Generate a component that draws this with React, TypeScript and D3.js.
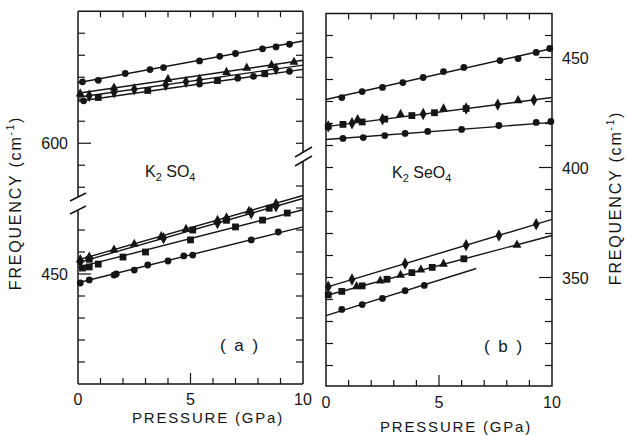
import React from 'react'
import { scaleLinear } from 'd3'

// pressure axis (GPa)
const pressureTicks = [1, 2, 3, 4, 5, 6, 7, 8, 9]
const pressureLabels = [0, 5, 10]

// ---- (a) K2SO4, upper band (cm-1)
const aUpTopCircleP = [0.2, 0.9, 2.1, 3.2, 3.8, 5.4, 6.3, 7.0, 8.2, 8.8, 9.4]
const aUpTopCircleV = [627.9, 628.6, 631.7, 633.5, 634.4, 637.4, 639.5, 640.8, 642.9, 643.8, 645.0]
const aUpTriangleP = [0.1, 1.6, 4.0, 6.6, 7.5, 8.6, 9.6]
const aUpTriangleV = [622.6, 625.3, 629.2, 632.4, 634.3, 635.6, 637.0]
const aUpDiamondP = [0.5, 1.6, 2.5, 3.9, 4.8, 5.4, 8.8]
const aUpDiamondV = [621.6, 623.2, 624.5, 626.6, 627.9, 628.8, 633.7]
const aUpSquareP = [0.9, 3.1, 6.2, 8.3]
const aUpSquareV = [620.8, 624.0, 628.5, 631.6]
const aUpCircleP = [0.25, 5.4, 7.1, 7.8, 9.4]
const aUpCircleV = [619.3, 626.9, 629.6, 630.4, 632.7]
// fitted lines [p0, v0, p1, v1]
const aUpFits = [
  [0, 627.5, 10, 646.5],
  [0, 622.7, 10, 637.7],
  [0, 620.9, 10, 635.5],
  [0, 619.1, 10, 633.6],
]

// ---- (a) K2SO4, lower band
const aLoCircleP = [0.1, 0.5, 1.6, 1.7, 2.5, 3.1, 4.0, 4.7, 5.1, 7.7, 8.9]
const aLoCircleV = [445.9, 447.3, 449.5, 450.0, 451.8, 454.1, 455.9, 458.2, 458.6, 465.5, 469.1]
const aLoSquareP = [0.2, 0.5, 0.9, 2.0, 3.0, 5.0, 7.0, 8.2, 9.3]
const aLoSquareV = [452.7, 453.2, 454.5, 457.7, 460.0, 465.5, 471.4, 474.5, 477.7]
const aLoTriangleP = [0.1, 0.5, 1.6, 2.5, 3.7, 4.8, 6.2, 6.6, 7.6, 8.8]
const aLoTriangleV = [456.7, 457.9, 461.1, 463.7, 467.2, 470.5, 474.6, 475.7, 478.7, 482.2]
const aLoDiamondP = [0.1, 3.8, 6.2, 7.7, 8.8]
const aLoDiamondV = [455.5, 466.3, 473.2, 477.6, 480.8]
const aLoSquareBP = [0.5, 5.1, 6.6, 8.5]
const aLoSquareBV = [456.7, 470.0, 474.4, 479.9]
const aLoFits = [
  [0, 446.0, 10, 471.4],
  [0, 453.0, 10, 479.2],
  [0, 456.4, 10, 485.7],
  [0, 455.2, 10, 484.3],
]

// ---- (b) K2SeO4
const bTopCircleP = [0.7, 1.6, 2.5, 3.4, 4.3, 5.2, 6.1, 7.7, 8.5, 9.3, 9.9]
const bTopCircleV = [431.8, 434.5, 436.4, 438.6, 440.9, 443.6, 445.5, 448.6, 449.5, 452.3, 454.1]
const bMidSquareP = [0.1, 0.75, 1.6, 2.6, 3.8, 4.8, 6.2]
const bMidSquareV = [418.7, 419.6, 420.7, 422.0, 423.6, 424.9, 426.8]
const bMidDiamondP = [0.1, 1.15, 2.5, 4.3, 6.2, 7.6, 9.2]
const bMidDiamondV = [418.7, 420.1, 421.9, 424.3, 426.8, 428.6, 430.7]
const bMidTriangleP = [1.4, 3.3, 5.2, 8.5]
const bMidTriangleV = [421.9, 424.3, 426.8, 430.6]
const bLowCircleP = [0.75, 1.65, 2.6, 3.5, 4.5, 6.0, 7.65, 9.3, 9.95]
const bLowCircleV = [413.2, 413.6, 414.5, 415.5, 416.4, 417.3, 419.1, 420.5, 420.9]
const bLoDiamondP = [0.1, 1.15, 3.5, 6.2, 7.65, 9.3]
const bLoDiamondV = [345.8, 349.1, 356.3, 364.7, 369.1, 374.2]
const bLoSquareP = [0.1, 0.7, 1.6, 2.7, 3.8, 4.7, 6.1]
const bLoSquareV = [342.1, 343.7, 346.2, 349.2, 352.2, 354.6, 358.5]
const bLoTriangleP = [1.35, 2.4, 3.3, 4.2, 5.2, 8.45]
const bLoTriangleV = [346.0, 348.6, 351.2, 353.6, 356.3, 364.9]
const bLoCircleP = [0.7, 1.6, 2.5, 3.5, 4.35]
const bLoCircleV = [335.5, 337.7, 340.5, 344.0, 346.4]
const bFits = [
  [0, 430.9, 10, 454.1],
  [0, 418.6, 10, 431.8],
  [0, 412.7, 10, 420.5],
  [0, 345.5, 10, 376.4],
  [0, 341.8, 10, 369.1],
  [0, 332.7, 6.65, 354.1],
]

const aUpper = [
  { marker: 'circle', p: aUpTopCircleP, v: aUpTopCircleV },
  { marker: 'triangle', p: aUpTriangleP, v: aUpTriangleV },
  { marker: 'diamond', p: aUpDiamondP, v: aUpDiamondV },
  { marker: 'square', p: aUpSquareP, v: aUpSquareV },
  { marker: 'circle', p: aUpCircleP, v: aUpCircleV },
]
const aLower = [
  { marker: 'circle', p: aLoCircleP, v: aLoCircleV },
  { marker: 'square', p: aLoSquareP, v: aLoSquareV },
  { marker: 'triangle', p: aLoTriangleP, v: aLoTriangleV },
  { marker: 'diamond', p: aLoDiamondP, v: aLoDiamondV },
  { marker: 'square', p: aLoSquareBP, v: aLoSquareBV },
]
const bSeries = [
  { marker: 'circle', p: bTopCircleP, v: bTopCircleV },
  { marker: 'square', p: bMidSquareP, v: bMidSquareV },
  { marker: 'diamond', p: bMidDiamondP, v: bMidDiamondV },
  { marker: 'triangle', p: bMidTriangleP, v: bMidTriangleV },
  { marker: 'circle', p: bLowCircleP, v: bLowCircleV },
  { marker: 'diamond', p: bLoDiamondP, v: bLoDiamondV },
  { marker: 'square', p: bLoSquareP, v: bLoSquareV },
  { marker: 'triangle', p: bLoTriangleP, v: bLoTriangleV },
  { marker: 'circle', p: bLoCircleP, v: bLoCircleV },
]

const INK = '#151515'
const FONT = '"Liberation Sans", Arial, sans-serif'

function Marker({ kind, x, y }) {
  if (kind === 'circle') return <circle cx={x} cy={y} r={3.4} fill={INK} />
  if (kind === 'square')
    return <rect x={x - 3.4} y={y - 3.4} width={6.8} height={6.8} fill={INK} />
  if (kind === 'triangle')
    return <path d={`M${x},${y - 5.2}L${x + 4.4},${y + 3}L${x - 4.4},${y + 3}Z`} fill={INK} />
  return <path d={`M${x},${y - 6.2}L${x + 3.4},${y}L${x},${y + 6.2}L${x - 3.4},${y}Z`} fill={INK} />
}

function Points({ series, x, y }) {
  return (
    <g>
      {series.map((s, i) =>
        s.p.map((p, j) => <Marker key={`${i}-${j}`} kind={s.marker} x={x(p)} y={y(s.v[j])} />)
      )}
    </g>
  )
}

function Fits({ fits, x, y }) {
  return (
    <g stroke={INK} strokeWidth={1.4}>
      {fits.map((f, i) => (
        <line key={i} x1={x(f[0])} y1={y(f[1])} x2={x(f[2])} y2={y(f[3])} />
      ))}
    </g>
  )
}

function FreqTitle({ cx, cy }) {
  return (
    <text
      transform={`translate(${cx},${cy}) rotate(-90)`}
      textAnchor="middle"
      fontSize={16}
      letterSpacing={1.8}
      fill={INK}
    >
      FREQUENCY (cm<tspan fontSize={10} dy={-7}>-1</tspan>
      <tspan dy={7}>)</tspan>
    </text>
  )
}

export default function App() {
  // panel (a)
  const ax = scaleLinear().domain([0, 10]).range([78, 303])
  const ayUp = scaleLinear().domain([600, 660]).range([143.25, 11.25])
  const ayLo = scaleLinear().domain([400, 480]).range([384, 208])
  const aTop = 11.25
  const aBot = 384
  // panel (b)
  const bx = scaleLinear().domain([0, 10]).range([326, 552])
  const by = scaleLinear().domain([300, 470]).range([387.5, 13.5])
  const bTop = 13.5
  const bBot = 386

  const aLeftLo = [410, 420, 430, 440, 450, 460, 470]
  const aLeftUp = [580, 590, 600, 610, 620, 630, 640, 650]
  const aRightLo = [410, 420, 430, 440, 450, 460, 470, 480, 490]
  const aRightUp = [600, 610, 620, 630, 640, 650]
  const bTicks = [310, 320, 330, 340, 350, 360, 370, 380, 390, 400, 410, 420, 430, 440, 450, 460]
  const bLabels = [350, 400, 450]

  return (
    <svg width={627} height={435} style={{ position: 'absolute', left: 0, top: 0 }} fontFamily={FONT}>
      <rect width={627} height={435} fill="#fff" />

      {/* panel (a) frame */}
      <g stroke={INK} strokeWidth={1.5} fill="none">
        <line x1={78} y1={aTop} x2={303} y2={aTop} />
        <line x1={78} y1={aBot} x2={303} y2={aBot} />
        <line x1={78} y1={aTop} x2={78} y2={197} />
        <line x1={78} y1={210} x2={78} y2={aBot} />
        <line x1={303} y1={aTop} x2={303} y2={152} />
        <line x1={303} y1={161} x2={303} y2={aBot} />
        {/* axis breaks */}
        <line x1={70} y1={201} x2={86} y2={193} />
        <line x1={70} y1={214} x2={86} y2={206} />
        <line x1={295} y1={157} x2={312} y2={147} />
        <line x1={295} y1={166} x2={312} y2={156} />
      </g>
      <g stroke={INK} strokeWidth={1.2}>
        {pressureTicks.map((t) => (
          <g key={t}>
            <line x1={ax(t)} x2={ax(t)} y1={aTop} y2={aTop + 6} />
            <line x1={ax(t)} x2={ax(t)} y1={aBot} y2={aBot - (t === 5 ? 11 : 6)} />
            <line x1={bx(t)} x2={bx(t)} y1={bTop} y2={bTop + 6} />
            <line x1={bx(t)} x2={bx(t)} y1={bBot} y2={bBot - (t === 5 ? 11 : 6)} />
          </g>
        ))}
        {aLeftLo.map((v) => (
          <line key={v} x1={78} x2={78 + (v === 450 ? 13 : 7)} y1={ayLo(v)} y2={ayLo(v)} />
        ))}
        {aLeftUp.map((v) => (
          <line key={v} x1={78} x2={78 + (v === 600 ? 13 : 7)} y1={ayUp(v)} y2={ayUp(v)} />
        ))}
        {aRightLo.map((v) => (
          <line key={v} x1={303} x2={296} y1={ayLo(v)} y2={ayLo(v)} />
        ))}
        {aRightUp.map((v) => (
          <line key={v} x1={303} x2={296} y1={ayUp(v)} y2={ayUp(v)} />
        ))}
        {bTicks.map((v) => (
          <g key={v}>
            <line x1={326} x2={333} y1={by(v)} y2={by(v)} />
            <line x1={552} x2={552 - (bLabels.includes(v) ? 13 : 7)} y1={by(v)} y2={by(v)} />
          </g>
        ))}
      </g>

      {/* panel (b) frame */}
      <rect x={326} y={bTop} width={226} height={bBot - bTop} fill="none" stroke={INK} strokeWidth={1.5} />

      {/* fits and data */}
      <Fits fits={aUpFits} x={ax} y={ayUp} />
      <Fits fits={aLoFits} x={ax} y={ayLo} />
      <Fits fits={bFits} x={bx} y={by} />
      <Points series={aUpper} x={ax} y={ayUp} />
      <Points series={aLower} x={ax} y={ayLo} />
      <Points series={bSeries} x={bx} y={by} />

      {/* tick labels */}
      <g fontSize={16} fill={INK}>
        <text x={68} y={ayUp(600) + 6} textAnchor="end">600</text>
        <text x={68} y={ayLo(450) + 6} textAnchor="end">450</text>
        {bLabels.map((v) => (
          <text key={v} x={562} y={by(v) + 6}>{v}</text>
        ))}
        {pressureLabels.map((t) => (
          <text key={`a${t}`} x={ax(t)} y={405} textAnchor="middle">{t}</text>
        ))}
        {pressureLabels.map((t) => (
          <text key={`b${t}`} x={bx(t)} y={408} textAnchor="middle">{t}</text>
        ))}
      </g>

      {/* titles */}
      <g fill={INK}>
        <text x={208} y={423} textAnchor="middle" fontSize={15} letterSpacing={1.8}>PRESSURE (GPa)</text>
        <text x={456} y={432} textAnchor="middle" fontSize={15} letterSpacing={1.8}>PRESSURE (GPa)</text>
        <FreqTitle cx={21} cy={203} />
        <FreqTitle cx={621} cy={198} />
        <text x={145} y={177} fontSize={16}>
          K<tspan fontSize={11} dy={4}>2</tspan>
          <tspan dy={-4}> SO</tspan>
          <tspan fontSize={11} dy={4}>4</tspan>
        </text>
        <text x={392} y={178} fontSize={16}>
          K<tspan fontSize={11} dy={4}>2</tspan>
          <tspan dy={-4}> SeO</tspan>
          <tspan fontSize={11} dy={4}>4</tspan>
        </text>
        <text x={240} y={351} textAnchor="middle" fontSize={17} letterSpacing={2}>( a )</text>
        <text x={504} y={352} textAnchor="middle" fontSize={17} letterSpacing={2}>( b )</text>
      </g>
    </svg>
  )
}
